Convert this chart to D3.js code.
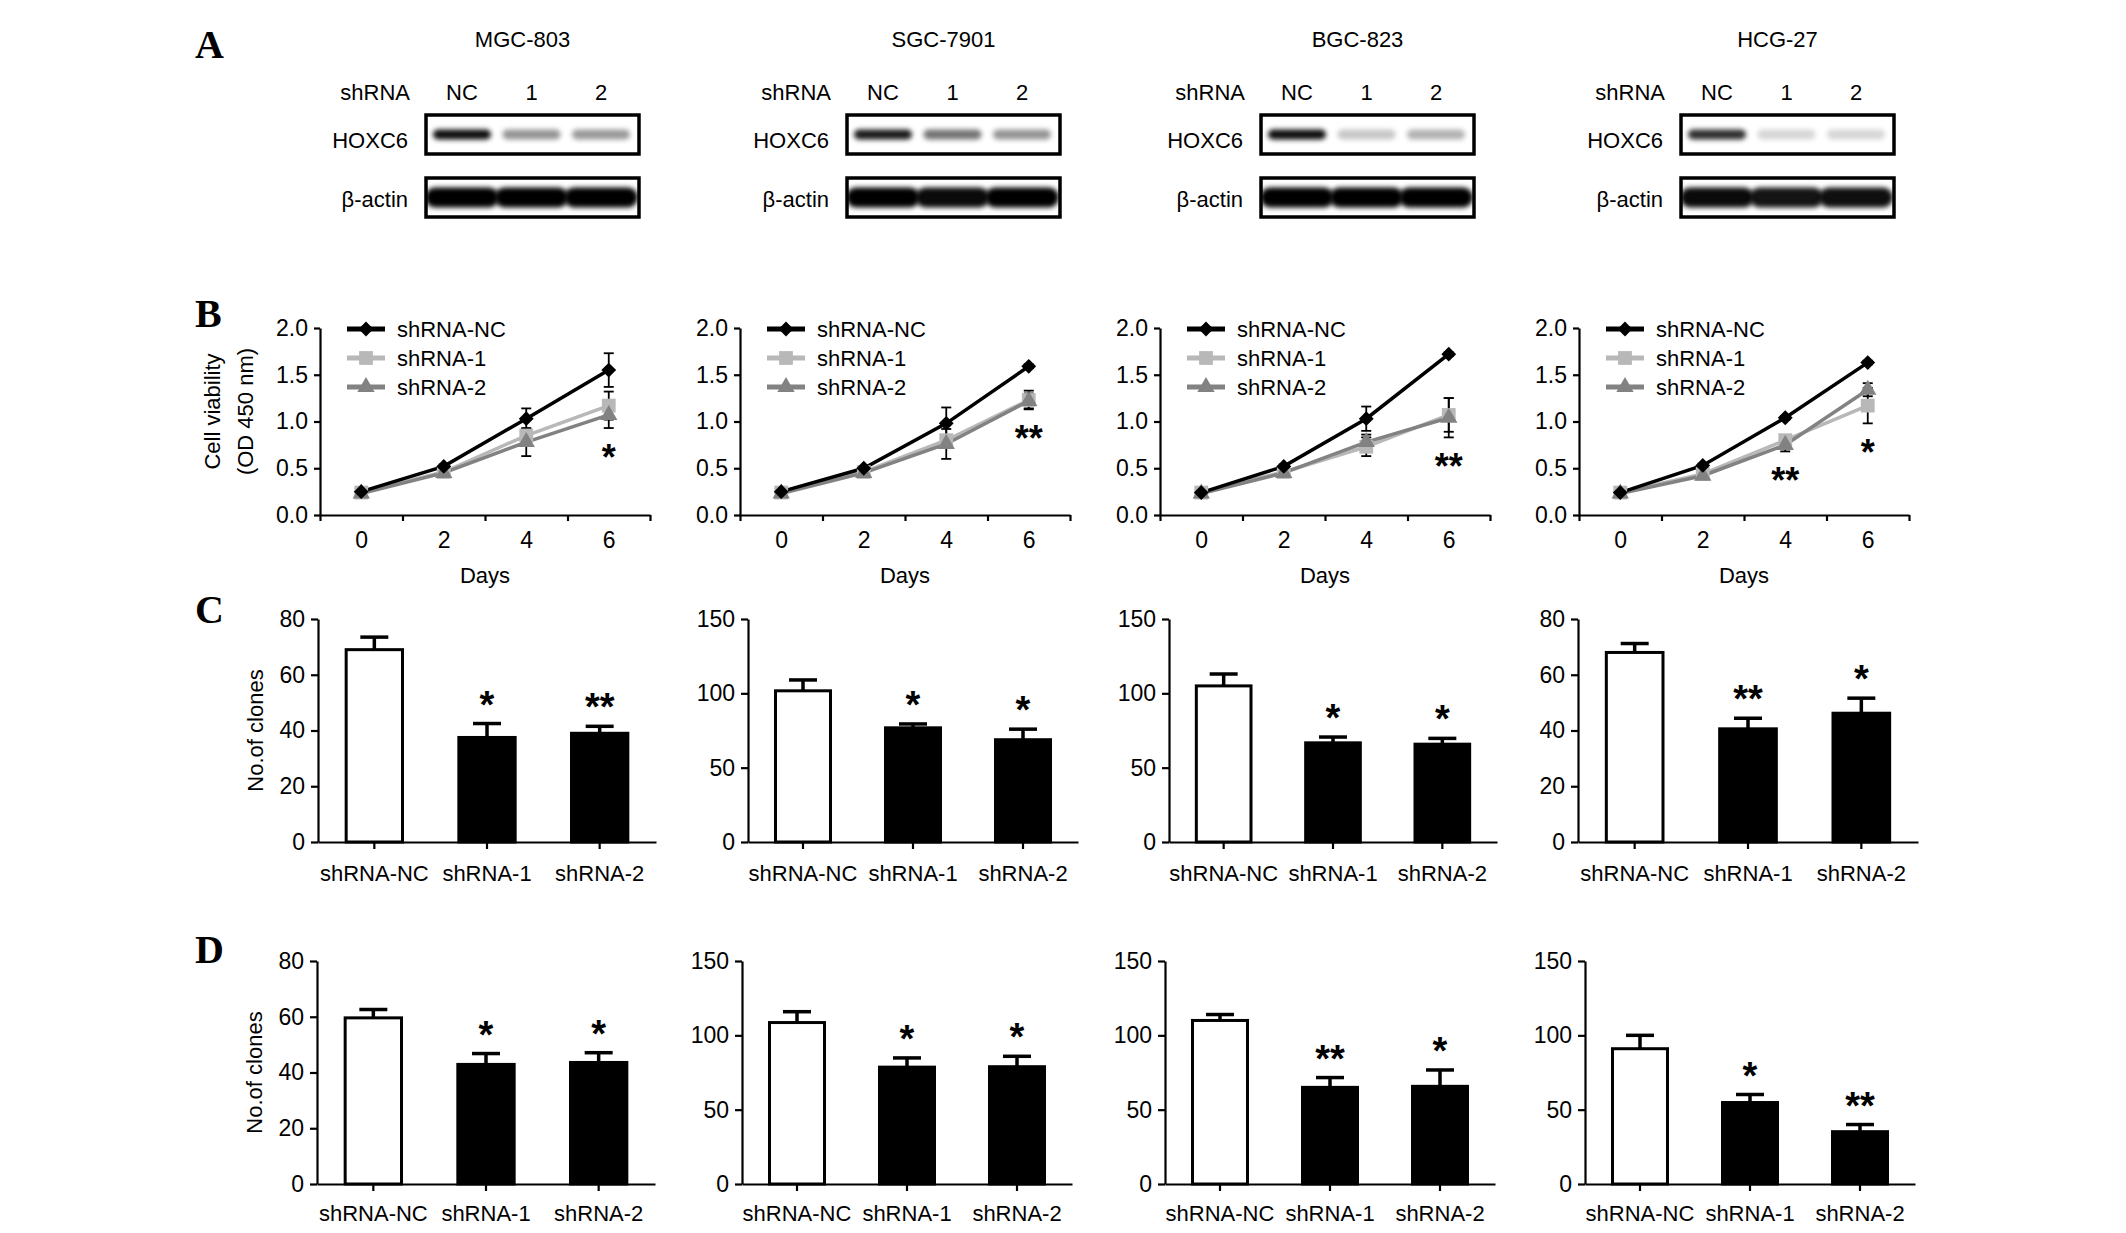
<!DOCTYPE html>
<html lang="en">
<head>
<meta charset="utf-8">
<script src="https://d3js.org/d3.v7.min.js"></script>
<style>
  body { margin: 0; background: #fff; }
</style>
<title>HOXC6 knockdown</title>
</head>
<body>
<div id="fig"></div>
<script>
// ---- panel A: western blots (band darkness 0..1) ----
var cellLines = ["MGC-803", "SGC-7901", "BGC-823", "HCG-27"];
var lanes = ["NC", "1", "2"];
var hoxc6Bands = [[0.95, 0.42, 0.4], [0.9, 0.55, 0.42], [0.95, 0.22, 0.3], [0.82, 0.16, 0.16]];
var actinBands = [[1, 1, 1], [1, 0.96, 1], [1, 1, 1], [0.96, 0.92, 0.94]];

// ---- panel B: cell viability, OD 450 nm ----
var days = [0, 2, 4, 6];
var dayTicks = [-1, 1, 3, 5, 7];
var viabTicks = [0, 0.5, 1.0, 1.5, 2.0];
var seriesNames = ["shRNA-NC", "shRNA-1", "shRNA-2"];
var viabNC = [[0.25, 0.52, 1.03, 1.55], [0.25, 0.50, 0.98, 1.59], [0.24, 0.52, 1.03, 1.72], [0.24, 0.53, 1.04, 1.63]];
var viabNCErr = [[0.01, 0.02, 0.11, 0.18], [0.01, 0.02, 0.17, 0.02], [0.01, 0.02, 0.13, 0.02], [0.01, 0.02, 0.02, 0.02]];
var viab1 = [[0.24, 0.46, 0.85, 1.17], [0.24, 0.46, 0.80, 1.23], [0.24, 0.46, 0.73, 1.07], [0.24, 0.44, 0.80, 1.17]];
var viab1Err = [[0.01, 0.02, 0.05, 0.15], [0.01, 0.02, 0.05, 0.10], [0.01, 0.02, 0.10, 0.18], [0.01, 0.02, 0.04, 0.19]];
var viab2 = [[0.23, 0.45, 0.78, 1.07], [0.23, 0.45, 0.76, 1.22], [0.23, 0.45, 0.78, 1.04], [0.23, 0.42, 0.75, 1.34]];
var viab2Err = [[0.01, 0.02, 0.15, 0.14], [0.01, 0.02, 0.16, 0.08], [0.01, 0.02, 0.08, 0.21], [0.01, 0.02, 0.07, 0.07]];
var viabStars = [[{day: 6, mark: "*"}], [{day: 6, mark: "**"}], [{day: 6, mark: "**"}], [{day: 4, mark: "**"}, {day: 6, mark: "*"}]];

// ---- panels C and D: number of clones ----
var groups = ["shRNA-NC", "shRNA-1", "shRNA-2"];
var ticks80 = [0, 20, 40, 60, 80];
var ticks150 = [0, 50, 100, 150];
var cloneC = [[69, 37.5, 39], [101.7, 76.8, 68.8], [105, 66.7, 65.8], [68, 40.6, 46.2]];
var cloneCErr = [[4.5, 5, 2.5], [7.3, 2.6, 7.1], [8, 3.9, 3.9], [3.2, 3.8, 5.4]];
var cloneCTicks = [ticks80, ticks150, ticks150, ticks80];
var cloneCStars = [["", "*", "**"], ["", "*", "*"], ["", "*", "*"], ["", "**", "*"]];
var cloneD = [[59.6, 42.9, 43.6], [108.6, 78.6, 78.9], [110, 65, 65.7], [91, 54.8, 35.2]];
var cloneDErr = [[3, 3.9, 3.5], [7.3, 6.2, 7], [4, 6.6, 11], [9, 5.4, 4.8]];
var cloneDTicks = [ticks80, ticks150, ticks150, ticks150];
var cloneDStars = [["", "*", "*"], ["", "*", "*"], ["", "**", "*"], ["", "*", "**"]];

var W = 2126, H = 1233;
var font = '"Liberation Sans", Arial, Helvetica, sans-serif';
var serif = '"Liberation Serif", "Times New Roman", serif';

var svg = d3.select("#fig").append("svg")
    .attr("width", W).attr("height", H)
    .attr("font-family", font).attr("fill", "#000");
svg.append("rect").attr("width", W).attr("height", H).attr("fill", "#fff");

var defs = svg.append("defs");
defs.append("filter").attr("id", "blur")
    .attr("x", "-40%").attr("y", "-80%").attr("width", "180%").attr("height", "260%")
  .append("feGaussianBlur").attr("stdDeviation", 2.4);

function styleAxis(sel, fs) {
  sel.attr("font-family", font).attr("font-size", fs);
  sel.select(".domain").attr("stroke", "#000").attr("stroke-width", 2.2);
  sel.selectAll(".tick line").attr("stroke", "#000").attr("stroke-width", 2.2);
  sel.selectAll(".tick text").attr("fill", "#000");
}

// panel letters
[["A", 58], ["B", 327], ["C", 623], ["D", 963]].forEach(function (p) {
  svg.append("text").attr("x", 195).attr("y", p[1])
      .attr("font-family", serif).attr("font-weight", "bold").attr("font-size", 40)
      .text(p[0]);
});

// ===== A =====
var blotLeft = [426, 847, 1261, 1681], blotW = 213, blotH = 39;
var laneX = d3.scalePoint().domain(lanes).range([36, 175]);
var rows = [
  {label: "HOXC6", y: 115, base: 33, bands: hoxc6Bands, bw: 58, bh: 10},
  {label: "\u03b2-actin", y: 178, base: 29, bands: actinBands, bw: 74, bh: 20}
];

cellLines.forEach(function (name, i) {
  var g = svg.append("g").attr("transform", "translate(" + blotLeft[i] + ",0)")
      .attr("font-size", 22);
  g.append("text").attr("x", blotW / 2 - 10).attr("y", 47)
      .attr("text-anchor", "middle").text(name);
  g.append("text").attr("x", -16).attr("y", 100)
      .attr("text-anchor", "end").text("shRNA");
  g.selectAll(".lane").data(lanes).enter().append("text")
      .attr("class", "lane")
      .attr("x", function (d) { return laneX(d); })
      .attr("y", 100)
      .attr("text-anchor", "middle")
      .text(function (d) { return d; });

  rows.forEach(function (row, r) {
    var cid = "clip" + i + "_" + r;
    defs.append("clipPath").attr("id", cid)
      .append("rect").attr("x", 0).attr("y", row.y).attr("width", blotW).attr("height", blotH);
    g.append("text").attr("x", -18).attr("y", row.y + row.base)
        .attr("text-anchor", "end").text(row.label);
    g.append("rect").attr("x", 0).attr("y", row.y)
        .attr("width", blotW).attr("height", blotH)
        .attr("fill", "#fff");
    g.append("g").attr("clip-path", "url(#" + cid + ")")
      .selectAll("rect").data(row.bands[i]).enter().append("rect")
        .attr("x", function (d, j) { return laneX(lanes[j]) - row.bw / 2; })
        .attr("y", row.y + blotH / 2 - row.bh / 2)
        .attr("width", row.bw).attr("height", row.bh)
        .attr("rx", row.bh / 2)
        .attr("fill", "#000")
        .attr("fill-opacity", function (d) { return d; })
        .attr("filter", "url(#blur)");
    g.append("rect").attr("x", 0).attr("y", row.y)
        .attr("width", blotW).attr("height", blotH)
        .attr("fill", "none").attr("stroke", "#000").attr("stroke-width", 3.5);
  });
});

// ===== B =====
var bLeft = [320, 740, 1160, 1579], bTop = 328, bH = 187, bW = 330;
var styles = [
  {color: "#000000", type: d3.symbolSquare, size: 110, rot: 45},
  {color: "#b8b8b8", type: d3.symbolSquare, size: 190, rot: 0},
  {color: "#828282", type: d3.symbolTriangle, size: 130, rot: 0}
];
var drawOrder = [1, 2, 0];

bLeft.forEach(function (left, i) {
  var x = d3.scaleLinear().domain([-1, 7]).range([0, bW]);
  var y = d3.scaleLinear().domain([0, 2]).range([bH, 0]);
  var g = svg.append("g").attr("transform", "translate(" + left + "," + bTop + ")");

  var means = [viabNC[i], viab1[i], viab2[i]];
  var errs = [viabNCErr[i], viab1Err[i], viab2Err[i]];
  var series = means.map(function (vals, k) {
    return {k: k, pts: days.map(function (d, j) { return {day: d, v: vals[j], e: errs[k][j]}; })};
  });

  var ya = g.append("g")
      .call(d3.axisLeft(y).tickValues(viabTicks).tickFormat(d3.format(".1f"))
        .tickSize(6).tickPadding(6).tickSizeOuter(0));
  styleAxis(ya, 23);

  var xa = g.append("g").attr("transform", "translate(0," + bH + ")")
      .call(d3.axisBottom(x).tickValues(dayTicks).tickFormat("").tickSize(6).tickSizeOuter(0));
  styleAxis(xa, 23);
  var xl = g.append("g").attr("transform", "translate(0," + bH + ")")
      .call(d3.axisBottom(x).tickValues(days).tickSize(0).tickPadding(17));
  xl.select(".domain").remove();
  styleAxis(xl, 23);

  g.append("text").attr("x", bW / 2).attr("y", 255)
      .attr("text-anchor", "middle").attr("font-size", 22).text("Days");

  var line = d3.line().x(function (d) { return x(d.day); }).y(function (d) { return y(d.v); });

  drawOrder.forEach(function (k) {
    var s = series[k], st = styles[k];
    g.append("path").datum(s.pts).attr("d", line)
        .attr("fill", "none").attr("stroke", st.color).attr("stroke-width", 3.5);
  });
  // error bars
  drawOrder.forEach(function (k) {
    var eb = g.append("g").attr("stroke", "#000").attr("stroke-width", 1.8);
    series[k].pts.forEach(function (p) {
      eb.append("line").attr("x1", x(p.day)).attr("x2", x(p.day))
          .attr("y1", y(p.v - p.e)).attr("y2", y(p.v + p.e));
      [p.v - p.e, p.v + p.e].forEach(function (v) {
        eb.append("line").attr("x1", x(p.day) - 5).attr("x2", x(p.day) + 5)
            .attr("y1", y(v)).attr("y2", y(v));
      });
    });
  });
  drawOrder.forEach(function (k) {
    var st = styles[k];
    g.selectAll(null).data(series[k].pts).enter().append("path")
        .attr("d", d3.symbol().type(st.type).size(st.size))
        .attr("transform", function (d) {
          return "translate(" + x(d.day) + "," + y(d.v) + ") rotate(" + st.rot + ")";
        })
        .attr("fill", st.color);
  });

  // significance marks below the lowest error bar
  viabStars[i].forEach(function (s) {
    var j = days.indexOf(s.day);
    var low = d3.min(series, function (ser) { return ser.pts[j].v - ser.pts[j].e; });
    g.append("text").attr("x", x(s.day)).attr("y", y(low) + 22 + 20)
        .attr("text-anchor", "middle").attr("font-size", 36).attr("font-weight", "bold")
        .text(s.mark);
  });

  // legend
  var lg = g.append("g");
  seriesNames.forEach(function (name, k) {
    var st = styles[k], ly = 1 + k * 29;
    lg.append("line").attr("x1", 27).attr("x2", 65).attr("y1", ly).attr("y2", ly)
        .attr("stroke", st.color).attr("stroke-width", 5);
    lg.append("path").attr("d", d3.symbol().type(st.type).size(st.size))
        .attr("transform", "translate(46," + ly + ") rotate(" + st.rot + ")")
        .attr("fill", st.color);
    lg.append("text").attr("x", 77).attr("y", ly).attr("dy", "0.36em")
        .attr("font-size", 22).text(name);
  });

  if (i === 0) {
    var yl = g.append("text").attr("transform", "translate(-108," + (bH / 2 - 10) + ") rotate(-90)")
        .attr("text-anchor", "middle").attr("font-size", 22);
    yl.append("tspan").attr("x", 0).attr("y", 0).attr("dy", "0.36em").text("Cell viability");
    yl.append("tspan").attr("x", 0).attr("y", 33).attr("dy", "0.36em").text("(OD 450 nm)");
  }
});

// ===== C and D =====
function barRow(vals, errs, tickSets, stars, lefts, widths, top, h, labelPad) {
  lefts.forEach(function (left, i) {
    var ticks = tickSets[i];
    var w = widths[i];
    var x = d3.scaleBand().domain(groups).range([0, w]).paddingInner(0.5).paddingOuter(0.25);
    var y = d3.scaleLinear().domain([0, ticks[ticks.length - 1]]).range([h, 0]);
    var g = svg.append("g").attr("transform", "translate(" + left + "," + top + ")");

    var rows = groups.map(function (name, j) {
      return {name: name, v: vals[i][j], e: errs[i][j], star: stars[i][j]};
    });

    // error bars (upper only)
    var eb = g.append("g").attr("stroke", "#000").attr("stroke-width", 3.5);
    rows.forEach(function (d) {
      var cx = x(d.name) + x.bandwidth() / 2;
      eb.append("line").attr("x1", cx).attr("x2", cx).attr("y1", y(d.v)).attr("y2", y(d.v + d.e));
      eb.append("line").attr("x1", cx - 14).attr("x2", cx + 14)
          .attr("y1", y(d.v + d.e)).attr("y2", y(d.v + d.e));
    });

    g.selectAll(".bar").data(rows).enter().append("rect")
        .attr("class", "bar")
        .attr("x", function (d) { return x(d.name); })
        .attr("y", function (d) { return y(d.v); })
        .attr("width", x.bandwidth())
        .attr("height", function (d) { return h - y(d.v); })
        .attr("fill", function (d, j) { return j === 0 ? "#fff" : "#000"; })
        .attr("stroke", "#000").attr("stroke-width", 3);

    g.selectAll(".star").data(rows.filter(function (d) { return d.star; })).enter().append("text")
        .attr("class", "star")
        .attr("x", function (d) { return x(d.name) + x.bandwidth() / 2; })
        .attr("y", function (d) { return y(d.v + d.e) - 27 + 21; })
        .attr("text-anchor", "middle").attr("font-size", 38).attr("font-weight", "bold")
        .text(function (d) { return d.star; });

    var ya = g.append("g")
        .call(d3.axisLeft(y).tickValues(ticks).tickSize(7).tickPadding(6).tickSizeOuter(0));
    styleAxis(ya, 23);
    var xa = g.append("g").attr("transform", "translate(0," + h + ")")
        .call(d3.axisBottom(x).tickSize(7).tickPadding(labelPad).tickSizeOuter(0));
    styleAxis(xa, 22);

    if (i === 0) {
      g.append("text").attr("transform", "translate(-63," + (h / 2) + ") rotate(-90)")
          .attr("text-anchor", "middle").attr("dy", "0.36em").attr("font-size", 22)
          .text("No.of clones");
    }
  });
}

barRow(cloneC, cloneCErr, cloneCTicks, cloneCStars,
       [318, 748, 1169, 1578], [338, 330, 328, 340], 619, 223, 16);
barRow(cloneD, cloneDErr, cloneDTicks, cloneDStars,
       [317, 742, 1165, 1585], [338, 330, 330, 330], 961, 223, 14);
</script>
</body>
</html>
